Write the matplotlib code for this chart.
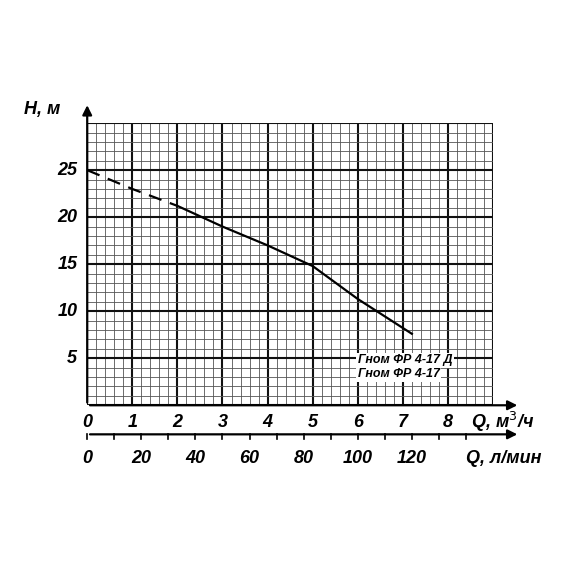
import matplotlib
matplotlib.use("Agg")
import matplotlib.pyplot as plt
import numpy as np

q_dash = [0, 1, 2]
h_dash = [25, 23, 21.2]
q_solid = [2, 3, 4, 5, 6, 7.2]
h_solid = [21.2, 19, 17, 14.8, 11.3, 7.6]
x_ticks = [0, 1, 2, 3, 4, 5, 6, 7, 8]
y_ticks = [5, 10, 15, 20, 25]
lmin_ticks = [0, 20, 40, 60, 80, 100, 120]
labels = ["Гном ФР 4-17 Д", "Гном ФР 4-17"]

plt.rcParams['font.family'] = ['Liberation Sans', 'DejaVu Sans']
fkw = dict(fontsize=13, fontweight='bold', fontstyle='italic')

fig = plt.figure(figsize=(5.7, 5.7), dpi=100)
ax = fig.add_axes([0.153, 0.289, 0.712, 0.495])
ax.set_xlim(0, 9)
ax.set_ylim(0, 30)
for v in np.arange(0, 9.01, 0.2):
    major = abs(v - round(v)) < 1e-6
    ax.axvline(v, color='#111' if major else '#555', lw=1.5 if major else 0.6, zorder=1)
for v in np.arange(0, 30.01, 1):
    major = v % 5 == 0
    ax.axhline(v, color='#111' if major else '#555', lw=1.5 if major else 0.6, zorder=1)
ax.plot(q_dash, h_dash, color='black', lw=1.6, dashes=(6, 4), zorder=3)
ax.plot(q_solid, h_solid, color='black', lw=1.6, zorder=3)
for s in ax.spines.values():
    s.set_visible(False)
ax.set_xticks([]); ax.set_yticks([])
for y in y_ticks:
    ax.text(-0.22, y, str(y), ha='right', va='center', **fkw)
for x in x_ticks:
    ax.text(x, -1.8, str(x), ha='center', va='center', **fkw)
ax.text(6.0, 4.8, labels[0], ha='left', va='center', fontsize=9, fontweight='bold',
        fontstyle='italic', bbox=dict(fc='white', ec='none', pad=1), zorder=5)
ax.text(6.0, 3.3, labels[1], ha='left', va='center', fontsize=9, fontweight='bold',
        fontstyle='italic', bbox=dict(fc='white', ec='none', pad=1), zorder=5)
ax.annotate('', xy=(9.6, 0), xytext=(0, 0), annotation_clip=False,
            arrowprops=dict(arrowstyle='-|>', color='black', lw=1.6, mutation_scale=14))
ax.annotate('', xy=(0, 32.2), xytext=(0, 0), annotation_clip=False,
            arrowprops=dict(arrowstyle='-|>', color='black', lw=1.6, mutation_scale=14))
ax.text(-1.0, 31.5, 'Н, м', ha='center', va='center', **fkw)
ax.text(8.5, -1.8, 'Q, м$^3$/ч', ha='left', va='center', **fkw)

ax2 = fig.add_axes([0.153, 0.233, 0.712, 0.01])
ax2.set_xlim(0, 150)
ax2.set_ylim(0, 1)
ax2.axis('off')
ax2.annotate('', xy=(160, 0.5), xytext=(0, 0.5), annotation_clip=False,
             arrowprops=dict(arrowstyle='-|>', color='black', lw=1.6, mutation_scale=14))
for t in range(0, 150, 10):
    ax2.plot([t, t], [0.5, -0.3], color='black', lw=1.2, clip_on=False)
ax3 = fig.add_axes([0.153, 0.17, 0.712, 0.05])
ax3.set_xlim(0, 150); ax3.set_ylim(0, 1); ax3.axis('off')
for t in lmin_ticks:
    ax3.text(t, 0.5, str(t), ha='center', va='center', **fkw)
ax3.text(140, 0.5, 'Q, л/мин', ha='left', va='center', **fkw)

fig.savefig('out.png', dpi=100, facecolor='white')
